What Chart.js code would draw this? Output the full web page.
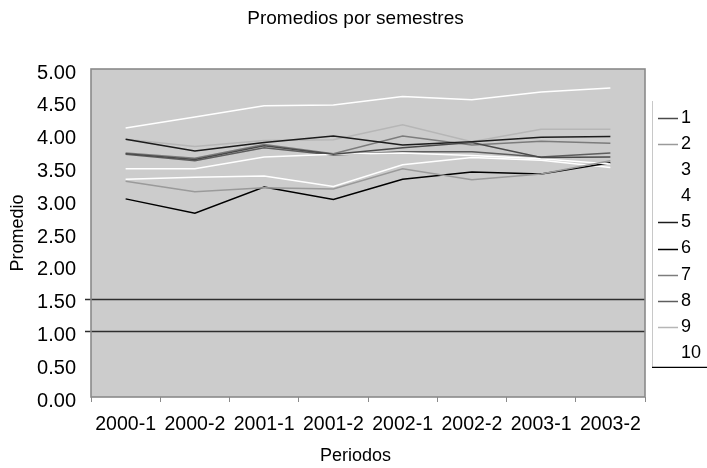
<!DOCTYPE html>
<html>
<head>
<meta charset="utf-8">
<script src="https://cdn.jsdelivr.net/npm/chart.js@4.4.1/dist/chart.umd.min.js"></script>
<style>
  html, body { margin: 0; padding: 0; background: #ffffff; }
  #wrap { width: 707px; height: 468px; }
</style>
</head>
<body>
<div id="wrap"><canvas id="grafico" width="707" height="468"></canvas></div>
<script>
// Periodos (semestres) del eje X
const periodos = ['2000-1', '2000-2', '2001-1', '2001-2', '2002-1', '2002-2', '2003-1', '2003-2'];

// Nombres de las series
const nombresSeries = ['1', '2', '3', '4', '5', '6', '7', '8', '9', '10'];

// Promedio por semestre de cada serie
const serie1  = [3.71, 3.62, 3.83, 3.70, 3.80, 3.88, 3.65, 3.66];
const serie2  = [3.29, 3.13, 3.19, 3.17, 3.48, 3.31, 3.40, 3.60];
const serie3  = [4.10, 4.27, 4.44, 4.45, 4.58, 4.53, 4.65, 4.71];
const serie4  = [3.48, 3.48, 3.66, 3.70, 3.72, 3.68, 3.63, 3.55];
const serie5  = [3.93, 3.75, 3.88, 3.98, 3.84, 3.89, 3.96, 3.97];
const serie6  = [3.02, 2.80, 3.20, 3.01, 3.32, 3.43, 3.40, 3.57];
const serie7  = [3.72, 3.64, 3.85, 3.71, 3.98, 3.84, 3.90, 3.87];
const serie8  = [3.70, 3.60, 3.80, 3.69, 3.74, 3.74, 3.66, 3.72];
const serie9  = [3.93, 3.82, 3.91, 3.92, 4.15, 3.89, 4.08, 4.08];
const serie10 = [3.32, 3.35, 3.37, 3.21, 3.54, 3.65, 3.61, 3.50];

// Niveles de referencia (líneas horizontales)
const nivelesReferencia = [1.5, 1.0];

// Marcas del eje Y
const ejeMin = 0, ejeMax = 5, ejePaso = 0.5;

// Textos
const tituloGrafico = 'Promedios por semestres';
const tituloEjeX = 'Periodos';
const tituloEjeY = 'Promedio';

const valoresSeries = [serie1, serie2, serie3, serie4, serie5, serie6, serie7, serie8, serie9, serie10];
const coloresSeries = ['#4a4a4a', '#9a9a9a', '#ffffff', '#ffffff', '#1c1c1c',
                       '#000000', '#7c7c7c', '#5e5e5e', '#b6b6b6', '#ffffff'];

const FUENTE = "'Liberation Sans', Arial, sans-serif";
const FONDO_AREA = '#cccccc';

const datasets = valoresSeries.map((vals, i) => ({
  label: nombresSeries[i],
  data: vals,
  borderColor: coloresSeries[i],
  backgroundColor: coloresSeries[i],
  borderWidth: 1.5,
  pointRadius: 0,
  pointHoverRadius: 0,
  tension: 0,
  fill: false
}));

// Fondo gris del área de trazado, líneas de referencia, marco, títulos y leyenda
const decoracion = {
  id: 'decoracion',
  beforeDraw(chart) {
    const { ctx, chartArea: a } = chart;
    ctx.save();
    ctx.fillStyle = FONDO_AREA;
    ctx.fillRect(a.left, a.top, a.right - a.left, a.bottom - a.top);
    ctx.restore();
  },
  beforeDatasetsDraw(chart) {
    const { ctx, chartArea: a, scales } = chart;
    ctx.save();
    ctx.strokeStyle = '#2e2e2e';
    ctx.lineWidth = 1.5;
    nivelesReferencia.forEach(v => {
      const y = Math.round(scales.y.getPixelForValue(v)) + 0.5;
      ctx.beginPath();
      ctx.moveTo(a.left - 6, y);
      ctx.lineTo(a.right, y);
      ctx.stroke();
    });
    ctx.restore();
  },
  afterDatasetsDraw(chart) {
    const { ctx, chartArea: a } = chart;
    ctx.save();
    ctx.strokeStyle = '#8a8a8a';
    ctx.lineWidth = 1.6;
    ctx.strokeRect(a.left, a.top, a.right - a.left, a.bottom - a.top);
    ctx.restore();
  },
  afterDraw(chart) {
    const { ctx, chartArea: a } = chart;
    ctx.save();
    // Títulos centrados en el ancho total del lienzo
    ctx.fillStyle = '#000000';
    ctx.textAlign = 'center';
    ctx.textBaseline = 'middle';
    ctx.font = '19px ' + FUENTE;
    ctx.fillText(tituloGrafico, chart.width / 2 + 2, 19);
    ctx.font = '18px ' + FUENTE;
    ctx.fillText(tituloEjeX, chart.width / 2 + 2, 456);

    // Leyenda
    const izq = a.right + 7;
    const arriba = a.top + 49;
    const paso = 26.1;
    const n = chart.data.datasets.length;
    const abajo = arriba + paso * (n - 1) + 14;
    ctx.fillStyle = '#ffffff';
    ctx.fillRect(izq, arriba - 17, chart.width - izq, abajo - arriba + 17);
    ctx.strokeStyle = '#c8c8c8';
    ctx.lineWidth = 1;
    ctx.beginPath();
    ctx.moveTo(izq + 0.5, arriba - 17);
    ctx.lineTo(izq + 0.5, abajo);
    ctx.stroke();
    ctx.strokeStyle = '#000000';
    ctx.lineWidth = 1.2;
    ctx.beginPath();
    ctx.moveTo(izq, abajo + 0.5);
    ctx.lineTo(chart.width, abajo + 0.5);
    ctx.stroke();
    ctx.font = '18px ' + FUENTE;
    ctx.textBaseline = 'middle';
    ctx.textAlign = 'left';
    chart.data.datasets.forEach((ds, i) => {
      const y = arriba + paso * i;
      ctx.strokeStyle = ds.borderColor;
      ctx.lineWidth = 1.5;
      ctx.beginPath();
      ctx.moveTo(izq + 6, Math.round(y) + 0.5);
      ctx.lineTo(izq + 26, Math.round(y) + 0.5);
      ctx.stroke();
      ctx.fillStyle = '#000000';
      ctx.fillText(ds.label, izq + 29, y);
    });
    ctx.restore();
  }
};

new Chart(document.getElementById('grafico'), {
  type: 'line',
  data: { labels: periodos, datasets },
  plugins: [decoracion],
  options: {
    responsive: false,
    animation: false,
    devicePixelRatio: 1,
    layout: { padding: { left: 0, right: 62, top: 69, bottom: 0 } },
    plugins: {
      legend: { display: false },
      tooltip: { enabled: false },
      title: { display: false }
    },
    scales: {
      x: {
        type: 'category',
        offset: true,
        grid: {
          display: true,
          offset: true,
          drawOnChartArea: false,
          drawTicks: true,
          tickLength: 5,
          color: '#8a8a8a',
          lineWidth: 1
        },
        border: { display: false },
        ticks: {
          color: '#000000',
          font: { family: FUENTE, size: 19.5 },
          padding: 11,
          maxRotation: 0,
          autoSkip: false
        },
        afterFit(scale) { scale.height = 71; }
      },
      y: {
        min: ejeMin,
        max: ejeMax,
        grid: { display: false, drawTicks: false },
        border: { display: false },
        ticks: {
          stepSize: ejePaso,
          color: '#000000',
          font: { family: FUENTE, size: 20 },
          padding: 15,
          labelOffset: 4,
          callback: v => Number(v).toFixed(2)
        },
        title: {
          display: true,
          text: tituloEjeY,
          color: '#000000',
          font: { family: FUENTE, size: 18 },
          padding: { top: 7, bottom: 0 }
        },
        afterFit(scale) { scale.width = 91; }
      }
    }
  }
});
</script>
</body>
</html>
